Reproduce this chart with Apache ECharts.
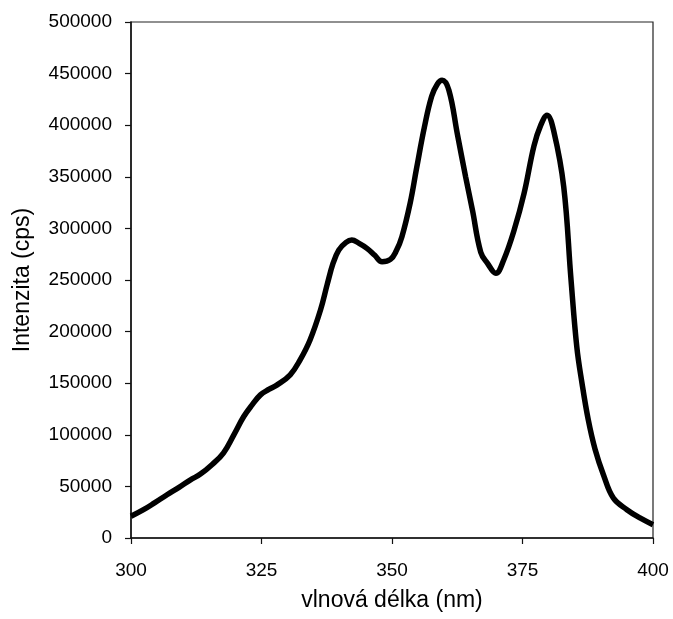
<!DOCTYPE html>
<html>
<head>
<meta charset="utf-8">
<script src="https://cdn.jsdelivr.net/npm/echarts@6/dist/echarts.min.js"></script>
<style>html,body{margin:0;padding:0;background:#fff;}#c{width:673px;height:619px;}</style>
</head>
<body>
<div id="c"></div>
<script>
const wavelengths = [300, 302.4, 304.5, 306.9, 309.2, 311.4, 313.3, 315.5, 317.7, 319.7, 321.6, 323.2, 324.8, 326.4, 328, 330.5, 332.4, 334.3, 336.3, 337.6, 338.7, 339.8, 341.2, 342.3, 343.7, 345.2, 346.7, 348.1, 349.7, 350.8, 351.9, 353.5, 354.7, 356.2, 357.6, 358.7, 359.6, 360.9, 362.5, 364.1, 365.4, 367, 368.3, 369.9, 371.4, 373.4, 375.3, 377.2, 378.5, 379.7, 381, 382.9, 384.3, 385.4, 386.4, 387.6, 388.9, 390.5, 392.4, 395, 397.5, 400];
const intensities = [21000, 27400, 34000, 41900, 49000, 56400, 61900, 71000, 82300, 100000, 117700, 129000, 138700, 144000, 148400, 158100, 172600, 191900, 220900, 246000, 266000, 279000, 286500, 288700, 285500, 280700, 274000, 267700, 270000, 278000, 292000, 325000, 358000, 398000, 428000, 440000, 443600, 433900, 392000, 350000, 318000, 277000, 266100, 256500, 269400, 298400, 333900, 380000, 400000, 409700, 394000, 340300, 250000, 185400, 150000, 114500, 86000, 61300, 38700, 27400, 19400, 12900];
const xTicks = [300, 325, 350, 375, 400];
const yTicks = [0, 50000, 100000, 150000, 200000, 250000, 300000, 350000, 400000, 450000, 500000];

const chart = echarts.init(document.getElementById('c'), null, {renderer: 'canvas'});
const font = 'Liberation Sans, Arial, sans-serif';
chart.setOption({
  animation: false,
  backgroundColor: '#fff',
  grid: {left: 131, right: 20, top: 22, bottom: 81, show: true, borderColor: '#222', borderWidth: 1.2},
  xAxis: {
    type: 'value', min: xTicks[0], max: xTicks[xTicks.length - 1], interval: 25,
    name: 'vlnová délka (nm)', nameLocation: 'middle', nameGap: 51,
    nameTextStyle: {fontFamily: font, fontSize: 23, color: '#000'},
    axisLine: {lineStyle: {color: '#111', width: 1.5}},
    axisTick: {show: true, length: 6, lineStyle: {color: '#111', width: 1.2}},
    axisLabel: {fontFamily: font, fontSize: 19, color: '#000', margin: 23},
    splitLine: {show: false}
  },
  yAxis: {
    type: 'value', min: yTicks[0], max: yTicks[yTicks.length - 1], interval: 50000,
    name: 'Intenzita (cps)', nameLocation: 'middle', nameGap: 97,
    nameTextStyle: {fontFamily: font, fontSize: 23, color: '#000'},
    axisLine: {show: true, lineStyle: {color: '#111', width: 1.5}},
    axisTick: {show: true, length: 6, lineStyle: {color: '#111', width: 1.2}},
    axisLabel: {fontFamily: font, fontSize: 19, color: '#000', margin: 19, formatter: v => String(v)},
    splitLine: {show: false}
  },
  series: [{
    type: 'line',
    data: wavelengths.map((w, i) => [w, intensities[i]]),
    showSymbol: false,
    smooth: 0.4,
    lineStyle: {color: '#000', width: 5.5},
    clip: true
  }]
});
</script>
</body>
</html>
